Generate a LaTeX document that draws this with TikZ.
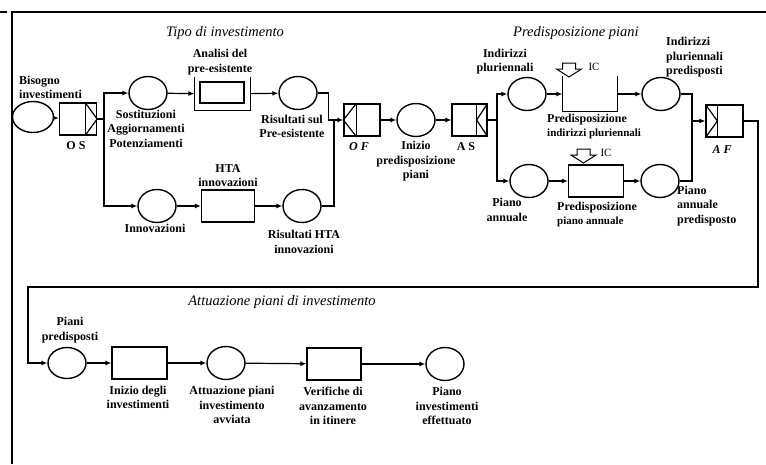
\documentclass[tikz,border=0pt]{standalone}
\usepackage{fontspec}
\setmainfont{Liberation Serif}
\usetikzlibrary{arrows.meta,shapes.geometric,calc}

\tikzset{
  place/.style={ellipse, draw, line width=1.4pt, minimum width=38pt, minimum height=33pt, inner sep=0pt},
  activity/.style={rectangle, draw, line width=1.2pt, minimum width=54pt, minimum height=32pt, inner sep=0pt},
  gate/.style={rectangle, draw, line width=1.2pt, minimum width=37pt, minimum height=32pt, inner sep=0pt},
  lbl/.style={font=\bfseries\fontsize{12}{14.5}\selectfont, align=center, inner sep=0pt},
  phase/.style={font=\itshape\fontsize{14.5}{16}\selectfont, inner sep=0pt},
  flow/.style={line width=1.2pt, -{Latex[length=6pt,width=5pt]}},
  wire/.style={line width=1.2pt},
}

\begin{document}
\begin{tikzpicture}[x=1pt, y=-1pt]
  \useasboundingbox (0,0) rectangle (766,464);

  % frame
  \draw[wire] (766,12) -- (12,12) -- (12,464);
  \draw[wire] (0,12) -- (7,12);

  % --- Tipo di investimento ---
  \node[phase] (tTipo) at (225,33) {Tipo di investimento};

  \node[place, minimum width=41pt, minimum height=31pt] (bisogno) at (33,117) {};
  \node[lbl, align=left, anchor=west] (lBisogno) at (19,87.5) {Bisogno\\investimenti};

  \node[gate] (os) at (78,119) {};
  \draw[wire] ($(os.north east)+(-12,0)$) -- ($(os.south east)+(-12,0)$);
  \draw[wire] ($(os.north east)+(-12,0)$) -- (os.east) -- ($(os.south east)+(-12,0)$);
  \node[lbl] (lOS) at (76,146) {O S};

  \node[place] (sost) at (148,93) {};
  \node[lbl] (lSost) at (146,128.5) {Sostituzioni\\Aggiornamenti\\Potenziamenti};

  \node[activity, draw=none, minimum width=55pt] (analisi) at (222.5,94) {};
  \draw[wire] (analisi.north west) -- (analisi.south west) -- (analisi.south east) -- (analisi.north east);
  \node[activity, minimum width=44pt, minimum height=21pt] (analisiIn) at (222,92.5) {};
  \node[lbl] (lAnalisi) at (220,62) {Analisi del\\pre-esistente};

  \node[place] (ris) at (298,93) {};
  \node[lbl] (lRis) at (292,126.5) {Risultati sul\\Pre-esistente};

  \node[place] (innov) at (157,206) {};
  \node[lbl] (lInnov) at (155,228) {Innovazioni};

  \node[activity, minimum width=53pt] (hta) at (228,206) {};
  \node[lbl] (lHta) at (228,175.5) {HTA\\innovazioni};

  \node[place] (risHta) at (302,206) {};
  \node[lbl] (lRisHta) at (304,242) {Risultati HTA\\innovazioni};

  \node[gate, minimum width=36pt] (of) at (362,120) {};
  \draw[wire] ($(of.north west)+(13,0)$) -- ($(of.south west)+(13,0)$);
  \draw[wire] ($(of.north west)+(13,0)$) -- (of.west) -- ($(of.south west)+(13,0)$);
  \node[lbl] (lOF) at (359,147) {\itshape O F};

  \coordinate (split1) at (104,119);
  \draw[flow] (bisogno) -- (os);
  \draw[wire] (os.east) -- (split1);
  \draw[flow] (split1) |- (sost.west);
  \draw[flow] (split1) |- (innov.west);
  \draw[flow] (sost) -- (analisi);
  \draw[flow] (analisi) -- (ris);
  \draw[flow] (innov) -- (hta);
  \draw[flow] (hta) -- (risHta);
  \draw[flow] (ris.east) -- ++(11,0) |- (of.west);
  \draw[wire] (risHta.east) -| (334,120);

  % --- Predisposizione piani ---
  \node[phase] (tPred) at (576,33) {Predisposizione piani};

  \node[place] (inizio) at (416,120) {};
  \node[lbl] (lInizio) at (416,161.5) {Inizio\\predisposizione\\piani};

  \node[gate, minimum width=35pt] (as) at (469.5,120) {};
  \draw[wire] ($(as.north east)+(-11,0)$) -- ($(as.south east)+(-11,0)$);
  \draw[wire] (as.north east) -- ($(as.east)+(-11,0)$) -- (as.south east);
  \node[lbl] (lAS) at (466,147) {A S};

  \node[place] (indir) at (527,94) {};
  \node[lbl] (lIndir) at (505,61.5) {Indirizzi\\pluriennali};

  \node[place] (pianoA) at (529,181) {};
  \node[lbl] (lPianoA) at (507,210) {Piano\\annuale};

  \node[activity, draw=none, minimum height=34pt] (predInd) at (590,94) {};
  \draw[wire] (predInd.north west) -- (predInd.south west) -- (predInd.south east) -- (predInd.north east);
  \node[lbl, align=left, anchor=west] (lPredInd) at (547,126.5) {Predisposizione\\\fontsize{11}{13}\selectfont indirizzi pluriennali};

  \node[activity, minimum width=55pt] (predPA) at (596,181) {};
  \node[lbl, align=left, anchor=west] (lPredPA) at (557,214.5) {Predisposizione\\\fontsize{11}{13}\selectfont piano annuale};

  % input arrows
  \foreach \ax/\ay in {569/63, 583.5/149}
    \draw[line width=1pt, fill=white] (\ax-6.5,\ay) -- (\ax+6.5,\ay) -- (\ax+6.5,\ay+6)
      -- (\ax+12.5,\ay+6) -- (\ax,\ay+14) -- (\ax-12.5,\ay+6) -- (\ax-6.5,\ay+6) -- cycle;
  \node[font=\fontsize{11}{12}\selectfont, inner sep=0pt] (ic1) at (594,67) {IC};
  \node[font=\fontsize{11}{12}\selectfont, inner sep=0pt] (ic2) at (606,153) {IC};

  \node[place] (indirP) at (661,94) {};
  \node[lbl, align=left, anchor=west] (lIndirP) at (666,57.5) {Indirizzi\\pluriennali\\predisposti};

  \node[place] (pianoAP) at (660,181) {};
  \node[lbl, align=left, anchor=west] (lPianoAP) at (677,206) {Piano\\annuale\\predisposto};

  \node[gate] (af) at (724.5,121) {};
  \draw[wire] ($(af.north west)+(12,0)$) -- ($(af.south west)+(12,0)$);
  \draw[wire] (af.north west) -- ($(af.west)+(12,0)$) -- (af.south west);
  \node[lbl] (lAF) at (722,150) {\itshape A F};

  \coordinate (split2) at (497,120);
  \coordinate (join2) at (692,121);
  \draw[flow] (of) -- (inizio);
  \draw[flow] (inizio) -- (as);
  \draw[wire] (as.east) -- (split2);
  \draw[flow] (split2) |- (indir.west);
  \draw[flow] (split2) |- (pianoA.west);
  \draw[flow] (indir) -- (predInd);
  \draw[flow] (predInd) -- (indirP);
  \draw[flow] (pianoA) -- (predPA);
  \draw[flow] (predPA) -- (pianoAP);
  \draw[wire] (indirP.east) -| (join2);
  \draw[wire] (pianoAP.east) -| (join2);
  \draw[flow] (join2) -- (af.west);

  % --- Attuazione piani di investimento ---
  \node[phase] (tAtt) at (282,302) {Attuazione piani di investimento};

  \node[place, minimum height=31pt] (pianiP) at (67,363) {};
  \node[lbl] (lPianiP) at (70,330) {Piani\\predisposti};

  \node[activity, minimum width=55pt] (inizioInv) at (139.5,363) {};
  \node[lbl] (lInizioInv) at (138,397.5) {Inizio degli\\investimenti};

  \node[place] (attuaz) at (226,363) {};
  \node[lbl] (lAttuaz) at (232,405) {Attuazione piani\\investimento\\avviata};

  \node[activity] (verif) at (334,364) {};
  \node[lbl] (lVerif) at (333,406) {Verifiche di\\avanzamento\\in itinere};

  \node[place] (pianoInv) at (445,364) {};
  \node[lbl] (lPianoInv) at (447,406) {Piano\\investimenti\\effettuato};

  \coordinate (loopR) at (758,287);
  \coordinate (loopL) at (28,287);
  \draw[flow] (af.east) -| (loopR) -- (loopL) |- (pianiP.west);
  \draw[flow] (pianiP) -- (inizioInv);
  \draw[flow] (inizioInv) -- (attuaz);
  \draw[flow] (attuaz) -- (verif);
  \draw[flow] (verif) -- (pianoInv);

\end{tikzpicture}
\end{document}
